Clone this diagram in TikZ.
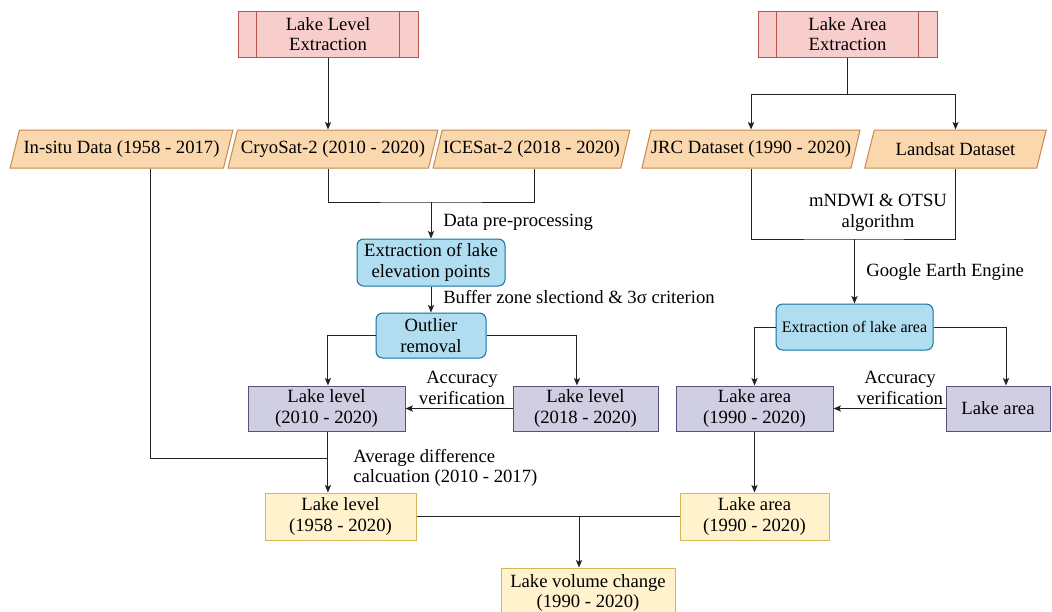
\documentclass[tikz,border=0pt]{standalone}
\usepackage{fontspec}
\setmainfont{Liberation Serif}
\usetikzlibrary{arrows.meta,shapes.geometric,calc}
\def\PX{0.75pt}
\definecolor{pinkF}{HTML}{F8CECC}\definecolor{pinkD}{HTML}{B85450}
\definecolor{orF}{HTML}{FAD7AC}\definecolor{orD}{HTML}{C8884A}
\definecolor{blF}{HTML}{B1DDF0}\definecolor{blD}{HTML}{10739E}
\definecolor{puF}{HTML}{D0CEE2}\definecolor{puD}{HTML}{56517E}
\definecolor{yeF}{HTML}{FFF2CC}\definecolor{yeD}{HTML}{D6B656}
\definecolor{lnC}{HTML}{222222}
\begin{document}
\begin{tikzpicture}[x=0.75pt,y=-0.75pt,
  font=\fontsize{14}{15.5}\selectfont,
  base/.style={inner sep=0pt, align=center, line width=0.75pt, text=black},
  procbox/.style={base, rectangle, draw=pinkD, fill=pinkF,
    path picture={
      \draw[pinkD,line width=0.75pt] ([xshift=13.9pt]path picture bounding box.north west) -- ([xshift=13.9pt]path picture bounding box.south west);
      \draw[pinkD,line width=0.75pt] ([xshift=-13.9pt]path picture bounding box.north east) -- ([xshift=-13.9pt]path picture bounding box.south east);
    }},
  para/.style={base, trapezium, trapezium left angle=62, trapezium right angle=118,
    trapezium stretches=true, draw=orD, fill=orF, minimum height=38*\PX},
  bluebox/.style={base, rectangle, rounded corners=5pt, draw=blD, fill=blF},
  purbox/.style={base, rectangle, draw=puD, fill=puF},
  yelbox/.style={base, rectangle, draw=yeD, fill=yeF},
  ln/.style={draw=lnC, line width=0.75pt},
  arr/.style={ln, -{Stealth[length=5.5pt,width=4.5pt,inset=1pt]}},
  lbl/.style={inner sep=0pt, align=center, text=black}
]
\useasboundingbox (0,0) rectangle (1052,611);
\clip (0,0) rectangle (1052,611);
\fill[white] (0,0) rectangle (1052,611);

% top process boxes
\node[procbox, minimum width=180*\PX, minimum height=46*\PX] (lle) at (328,34) {Lake Level\\Extraction};
\node[procbox, minimum width=179*\PX, minimum height=46*\PX] (lae) at (847.5,34) {Lake Area\\Extraction};

% data parallelograms
\node[para, minimum width=223*\PX] (insitu) at (121.5,149) {In-situ Data (1958 - 2017)};
\node[para, minimum width=210*\PX] (cryo) at (333,149) {CryoSat-2 (2010 - 2020)};
\node[para, minimum width=197*\PX] (icesat) at (531.5,149) {ICESat-2 (2018 - 2020)};
\node[para, minimum width=214*\PX] (jrc) at (751,149) {JRC Dataset (1990 - 2020)};
\node[para, minimum width=183*\PX] (landsat) at (955.5,149) {Landsat Dataset};

% processing
\node[bluebox, minimum width=148*\PX, minimum height=47*\PX] (ext1) at (431,262.5) {Extraction of lake\\elevation points};
\node[bluebox, minimum width=110*\PX, minimum height=45*\PX] (outlier) at (431,335.5) {Outlier\\removal};
\node[bluebox, minimum width=157*\PX, minimum height=46*\PX, font=\fontsize{12}{14}\selectfont] (extarea) at (854.5,327) {Extraction of lake area};

% results
\node[purbox, minimum width=157*\PX, minimum height=45*\PX] (ll2010) at (326.5,408.5) {Lake level\\(2010 - 2020)};
\node[purbox, minimum width=145*\PX, minimum height=45*\PX] (ll2018) at (585.5,408.5) {Lake level\\ (2018 - 2020)};
\node[purbox, minimum width=157*\PX, minimum height=45*\PX] (la1990) at (754.5,408.5) {Lake area\\(1990 - 2020)};
\node[purbox, minimum width=104*\PX, minimum height=45*\PX] (lasmall) at (998,408.5) {Lake area};

\node[yelbox, minimum width=151*\PX, minimum height=47*\PX] (ll1958) at (340.5,516.5) {Lake level\\ (1958 - 2020)};
\node[yelbox, minimum width=149*\PX, minimum height=47*\PX] (labot) at (754.5,516.5) {Lake area\\ (1990 - 2020)};
\node[yelbox, minimum width=174*\PX, minimum height=50*\PX] (vol) at (588,593) {Lake volume change\\ (1990 - 2020)};

% coordinates for junctions
\coordinate (lsplit) at (847.5,94);
\coordinate (m1) at (431,202);
\coordinate (m2) at (854.5,239);
\coordinate (j1) at (328,458);
\coordinate (j2) at (579,516.5);

% connectors
\draw[arr] (lle.south) -- (lle.south |- cryo.north);
\draw[ln] (lae.south) -- (lsplit);
\draw[arr] (lsplit) -| (jrc.north);
\draw[arr] (lsplit) -| (landsat.north);

\draw[ln] (lle.south |- cryo.south) |- (m1) -| ([xshift=1.9pt]icesat.south);
\draw[arr] (m1) -- (ext1.north);
\draw[arr] (ext1) -- (outlier);
\draw[arr] (outlier.west) -| ([xshift=1.1pt]ll2010.north);
\draw[arr] (outlier.east) -| ([xshift=-6.4pt]ll2018.north);
\draw[arr] (ll2018.west) -- (ll2010.east);

\draw[ln] ([xshift=22.1pt]insitu.south) |- (j1);
\draw[arr] ([xshift=1.1pt]ll2010.south) -- ([xshift=1.1pt]ll2010.south |- ll1958.north);

\draw[ln] (jrc.south) |- (m2) -| (landsat.south);
\draw[arr] (m2) -- (extarea.north);
\draw[arr] (extarea.west) -| (la1990.north);
\draw[arr] (extarea.east) -| ([xshift=6pt]lasmall.north);
\draw[arr] (lasmall.west) -- (la1990.east);
\draw[arr] (la1990.south) -- (labot.north);

\draw[ln] (ll1958.east) -- (labot.west);
\draw[arr] (j2) -- (j2 |- vol.north);

% labels
\node[lbl, anchor=west] (t1) at (443,222) {Data pre-processing};
\node[lbl, anchor=west] (t2) at (443,297) {Buffer zone slectiond \& 3σ criterion};
\node[lbl] (t3) at (462,388) {Accuracy\\verification};
\node[lbl, anchor=west, align=left] (t4) at (353,468) {Average difference\\calcuation (2010 - 2017)};
\node[lbl] (t5) at (878,213) {mNDWI \& OTSU\\algorithm};
\node[lbl, anchor=west] (t6) at (866,272) {Google Earth Engine};
\node[lbl] (t7) at (900,388) {Accuracy\\verification};
\end{tikzpicture}
\end{document}
